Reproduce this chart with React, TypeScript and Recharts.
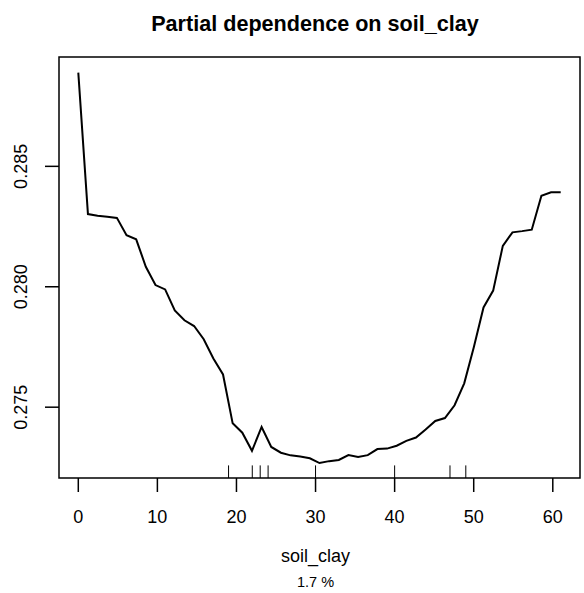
import React from 'react';
import { ComposedChart, Line, Scatter, XAxis, YAxis, ReferenceArea } from 'recharts';

// grid of soil_clay values used for the partial dependence curve
const clayX = [
  0, 1.22, 2.44, 3.66, 4.88, 6.1, 7.32, 8.54, 9.76, 10.98,
  12.2, 13.42, 14.64, 15.86, 17.08, 18.3, 19.52, 20.74, 21.96, 23.18,
  24.4, 25.62, 26.84, 28.06, 29.28, 30.5, 31.72, 32.94, 34.16, 35.38,
  36.6, 37.82, 39.04, 40.26, 41.48, 42.7, 43.92, 45.14, 46.36, 47.58,
  48.8, 50.02, 51.24, 52.46, 53.68, 54.9, 56.12, 57.34, 58.56, 59.78,
  61,
];

const pdValues = [
  0.28889, 0.28302, 0.28295, 0.28291, 0.28286, 0.28214, 0.28197, 0.28083, 0.28007, 0.27989,
  0.27902, 0.27861, 0.27837, 0.27782, 0.27702, 0.27636, 0.27433, 0.27394, 0.27319, 0.27418,
  0.27335, 0.27311, 0.273, 0.27295, 0.27288, 0.27268, 0.27276, 0.27281, 0.27301, 0.27293,
  0.27301, 0.27326, 0.27328, 0.2734, 0.2736, 0.27374, 0.27407, 0.27443, 0.27455, 0.27508,
  0.27599, 0.2775, 0.27914, 0.27984, 0.2817, 0.28226, 0.28231, 0.28237, 0.28378, 0.28392,
  0.28392,
];

// observed values shown as a rug
const rugX = [19, 22, 23, 24, 30, 40, 47, 49];

const xTicks = [0, 10, 20, 30, 40, 50, 60];
const yTicks = [0.275, 0.28, 0.285];
const xDomain: [number, number] = [-2.44, 63.44];
const yDomain: [number, number] = [0.27206, 0.28954];

const FONT = '"Liberation Sans", Arial, Helvetica, sans-serif';

const lineData = clayX.map((x, i) => ({ x, y: pdValues[i] }));
const rugData = rugX.map((x) => ({ x, y: yDomain[0] }));

const RugMark = (props: any) => {
  const { cx, cy } = props;
  return <line x1={cx} y1={cy} x2={cx} y2={cy - 12.6} stroke="#000" strokeWidth={1} />;
};

const XTick = ({ x, y, payload }: any) => (
  <text x={x} y={y} dy={12.8} textAnchor="middle" fontSize={18} fontFamily={FONT} fill="#000">
    {payload.value}
  </text>
);

const YTick = ({ x, y, payload }: any) => (
  <text
    x={x}
    y={y}
    transform={`rotate(-90, ${x}, ${y})`}
    textAnchor="middle"
    fontSize={18}
    fontFamily={FONT}
    fill="#000"
  >
    {Number(payload.value).toFixed(3)}
  </text>
);

const XLabel = (props: any) => {
  const vb = props.viewBox || { x: 59, y: 478, width: 521 };
  const cx = vb.x + vb.width / 2 - 4;
  return (
    <g>
      <text x={cx} y={vb.y + 84} textAnchor="middle" fontSize={18} fontFamily={FONT} fill="#000">
        soil_clay
      </text>
      <text x={cx} y={vb.y + 109} textAnchor="middle" fontSize={14.5} fontFamily={FONT} fill="#000">
        1.7 %
      </text>
    </g>
  );
};

const App = () => {
  return (
    <div style={{ position: 'absolute', left: 0, top: 0, width: 584, height: 593, background: '#fff' }}>
      <div
        style={{
          position: 'absolute',
          left: 0,
          top: 10.5,
          width: 630,
          textAlign: 'center',
          fontFamily: FONT,
          fontWeight: 'bold',
          fontSize: 21.6,
          lineHeight: 'normal',
          color: '#000',
        }}
      >
        Partial dependence on soil_clay
      </div>
      <ComposedChart width={584} height={593} margin={{ top: 57, right: 4, bottom: 0, left: 0 }}>
        <XAxis
          type="number"
          dataKey="x"
          domain={xDomain}
          ticks={xTicks}
          allowDataOverflow
          height={115}
          axisLine={false}
          tickLine={{ stroke: '#000', strokeWidth: 1.5 }}
          tickSize={14}
          tickMargin={18}
          tick={<XTick />}
          label={<XLabel />}
        />
        <YAxis
          type="number"
          dataKey="y"
          domain={yDomain}
          ticks={yTicks}
          allowDataOverflow
          width={59}
          axisLine={false}
          tickLine={{ stroke: '#000', strokeWidth: 1.5 }}
          tickSize={14}
          tickMargin={18}
          tick={<YTick />}
        />
        <ReferenceArea
          x1={xDomain[0]}
          x2={xDomain[1]}
          y1={yDomain[0]}
          y2={yDomain[1]}
          fill="none"
          fillOpacity={0}
          stroke="#000"
          strokeWidth={1.5}
        />
        <Line
          data={lineData}
          dataKey="y"
          type="linear"
          stroke="#000"
          strokeWidth={2}
          dot={false}
          activeDot={false}
          isAnimationActive={false}
        />
        <Scatter data={rugData} dataKey="y" shape={<RugMark />} isAnimationActive={false} />
      </ComposedChart>
    </div>
  );
};

export default App;
